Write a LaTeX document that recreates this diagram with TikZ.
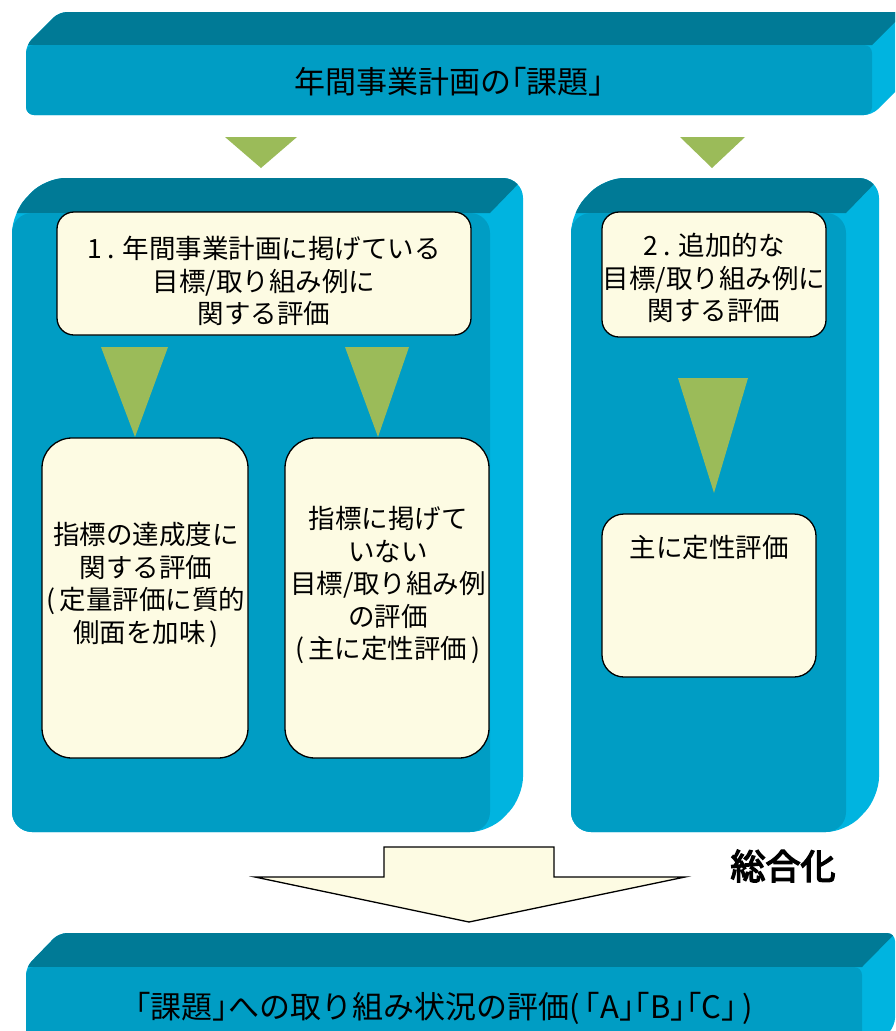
\documentclass[tikz,border=0pt]{standalone}
\usepackage{fontspec}
\setmainfont{Noto Sans CJK JP}
\newfontfamily\jpbold[FakeBold=4]{Noto Sans CJK JP}
\definecolor{frontc}{HTML}{009DC4}
\definecolor{topc}{HTML}{007A96}
\definecolor{sidec}{HTML}{00B4E0}
\definecolor{cream}{HTML}{FDFBE3}
\definecolor{tric}{HTML}{9BBB59}
% 3D slab: #1=x1 #2=y1 #3=x2 #4=y2 (front face), #5 dx, #6 dy, #7 radius
\newcommand\slab[7]{%
  \fill[sidec,rounded corners=#7] (#1,#4) -- (#1,#2) -- (#1+#5,#2-#6) -- (#3+#5,#2-#6) -- (#3+#5,#4-#6) -- (#3,#4) -- cycle;
  \begin{scope}[rounded corners=#7]
  \clip (#1,#4) -- (#1,#2) -- (#1+#5,#2-#6) -- (#3+#5,#2-#6) -- (#3+#5,#4-#6) -- (#3,#4) -- cycle;
  \fill[topc,sharp corners] (#1-60,#2) -- (#3,#2) -- (#3+#5+30,#2-#6-30) -- (#1-60,#2-#6-30) -- cycle;
  \end{scope}
  \fill[frontc,rounded corners=#7] (#1,#2) rectangle (#3,#4);
}
\tikzset{
  inbox/.style={draw=black, line width=1.3pt, fill=cream, rounded corners=#1, inner sep=0pt},
  boxtext/.style={align=center, font=\fontsize{26.5}{32.5}\selectfont, inner sep=0pt},
  bartext/.style={align=center, font=\fontsize{31}{36}\selectfont, inner sep=0pt},
  tri/.style={fill=tric}
}
\begin{document}
\begin{tikzpicture}[x=1pt,y=-1pt]
\useasboundingbox (0,0) rectangle (895,1031);
\clip (0,0) rectangle (895,1031);
\fill[white] (0,0) rectangle (895,1031);

% top bar
\slab{26}{45}{872}{115}{33}{33}{8}
\node[bartext] (title) at (449,82) {年間事業計画の｢課題｣};

% arrows from top bar
\fill[tri] (225,137) -- (297,137) -- (261,168) -- cycle;
\fill[tri] (680,137) -- (745,137) -- (712,168) -- cycle;

% left panel
\slab{12}{213}{490}{832}{33}{35}{20}
% right panel
\slab{571}{213}{846}{832}{33}{35}{20}

% inner boxes
\node[inbox=17, minimum width=414pt, minimum height=123pt] (b1) at (264,273.5) {};
\node[boxtext] (t1) at (264,281) {1 . 年間事業計画に掲げている\\目標/取り組み例に\\関する評価};

\fill[tri] (101,347) -- (168,347) -- (135,437) -- cycle;
\fill[tri] (345,347) -- (409,347) -- (378,437) -- cycle;

\node[inbox=30, minimum width=206pt, minimum height=320pt] (bA) at (145,598) {};
\node[boxtext] (tA) at (146,585) {指標の達成度に\\関する評価\\(\,定量評価に質的\\側面を加味\,)};

\node[inbox=30, minimum width=204pt, minimum height=320pt] (bB) at (387,598) {};
\node[boxtext] (tB) at (388,585) {指標に掲げて\\いない\\目標/取り組み例\\の評価\\(\,主に定性評価\,)};

\node[inbox=17, minimum width=224pt, minimum height=125pt] (b2) at (714,274.5) {};
\node[boxtext] (t2) at (714,278) {2 . 追加的な\\目標/取り組み例に\\関する評価};

\fill[tri] (678,378) -- (748,378) -- (714,493) -- cycle;

\node[inbox=22, minimum width=214pt, minimum height=163pt] (bC) at (709,595.5) {};
\node[boxtext] (tC) at (709,547) {主に定性評価};

% big arrow
\draw[line width=1.3pt, fill=cream, line join=miter]
  (384,847) -- (554,847) -- (554,877) -- (685,877) -- (469,922) -- (255,877) -- (384,877) -- cycle;
\node[inner sep=0pt, font=\jpbold\fontsize{35}{40}\selectfont] (sogo) at (783,866) {総合化};

% bottom bar
\slab{26}{967}{862}{1060}{33}{34}{8}
\node[bartext] (result) at (444,1008) {｢課題｣への取り組み状況の評価(\,｢A｣｢B｣｢C｣\,)};
\end{tikzpicture}
\end{document}
